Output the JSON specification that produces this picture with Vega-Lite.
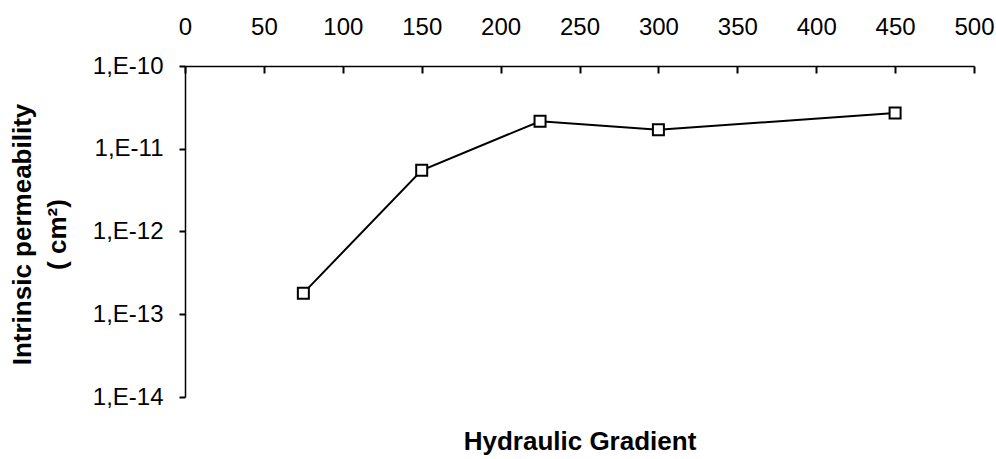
{
  "$schema": "https://vega.github.io/schema/vega-lite/v6.json",
  "width": 789,
  "height": 331,
  "autosize": "none",
  "padding": {"left": 185, "top": 66, "right": 22, "bottom": 62},
  "background": "white",
  "config": {
    "view": {"stroke": null},
    "font": "Liberation Sans",
    "axis": {"grid": false, "domainColor": "black", "tickColor": "black", "labelColor": "black", "titleColor": "black", "domainWidth": 1.5, "tickWidth": 2}
  },
  "data": {
    "values": [
      {"gradient": 75, "k": 1.8e-13},
      {"gradient": 150, "k": 5.5e-12},
      {"gradient": 225, "k": 2.15e-11},
      {"gradient": 300, "k": 1.7e-11},
      {"gradient": 450, "k": 2.7e-11}
    ]
  },
  "layer": [
    {
      "mark": {"type": "line", "color": "black", "strokeWidth": 2},
      "encoding": {
        "x": {"field": "gradient", "type": "quantitative"},
        "y": {"field": "k", "type": "quantitative"}
      }
    },
    {
      "mark": {"type": "point", "shape": "square", "filled": true, "fill": "white", "stroke": "black", "strokeWidth": 2, "size": 121, "opacity": 1},
      "encoding": {
        "x": {
          "field": "gradient", "type": "quantitative",
          "scale": {"domain": [0, 500], "nice": false, "zero": false},
          "axis": {
            "orient": "top", "values": [0, 50, 100, 150, 200, 250, 300, 350, 400, 450, 500],
            "tickSize": -7, "labelPadding": 34, "labelFontSize": 24, "labelFlush": false,
            "title": "Hydraulic Gradient", "titleFontSize": 26, "titleFontWeight": "bold",
            "titleY": 383, "titleBaseline": "alphabetic"
          }
        },
        "y": {
          "field": "k", "type": "quantitative",
          "scale": {"type": "log", "domain": [1e-14, 1e-10], "nice": false},
          "axis": {
            "orient": "left", "values": [1e-14, 1e-13, 1e-12, 1e-11, 1e-10],
            "tickSize": 6, "labelPadding": 16, "labelFontSize": 24,
            "labelExpr": "'1,E-' + round(-log(datum.value)/LN10)",
            "title": ["Intrinsic permeability", "( cm²)"], "titleFontSize": 26, "titleFontWeight": "bold",
            "titleX": -163, "titleY": 168, "titleAngle": -90, "titleAlign": "center", "titleBaseline": "middle", "titleLineHeight": 35
          }
        }
      }
    }
  ]
}
